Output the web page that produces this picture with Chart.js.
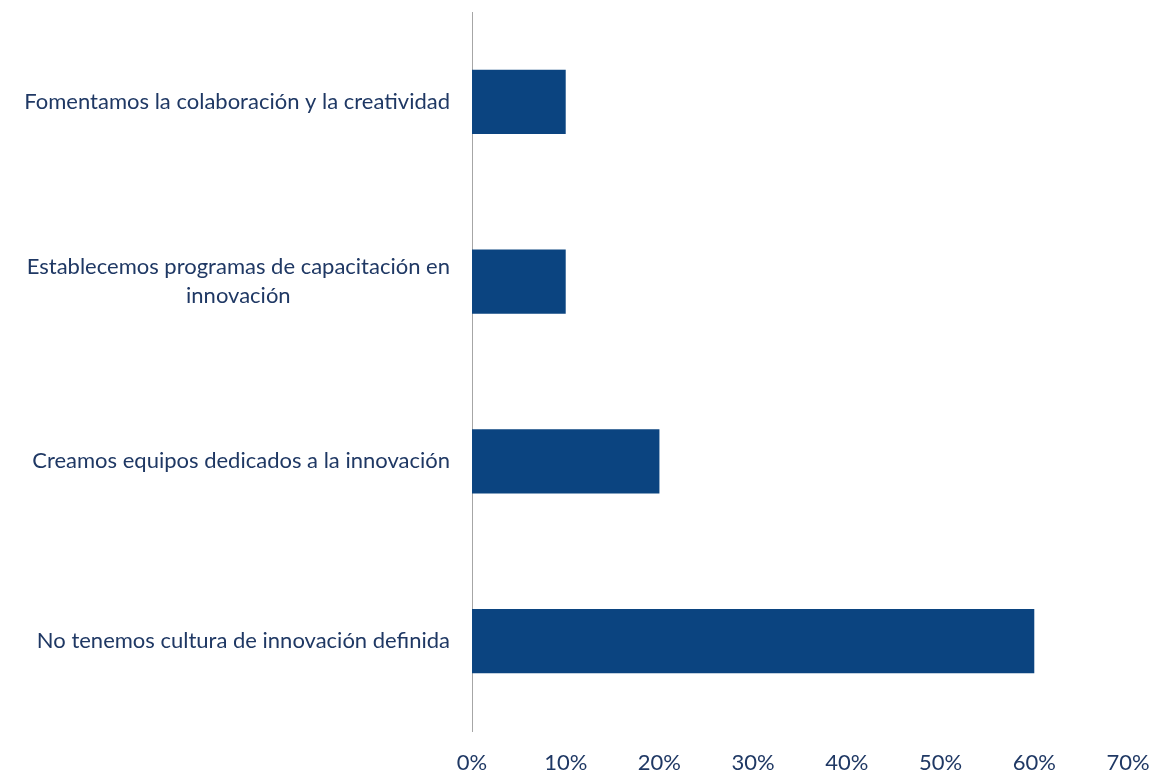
<!DOCTYPE html>
<html>
<head>
<meta charset="utf-8">
<script src="https://cdn.jsdelivr.net/npm/chart.js@4/dist/chart.umd.min.js"></script>
<style>
html,body{margin:0;padding:0;background:#fff;}
#wrap{width:1154px;height:771px;position:relative;}
</style>
</head>
<body>
<div id="wrap"><canvas id="c" width="1154" height="771"></canvas></div>
<script>
const categories = [
  "Fomentamos la colaboración y la creatividad",
  ["Establecemos programas de capacitación en", "innovación"],
  "Creamos equipos dedicados a la innovación",
  "No tenemos cultura de innovación definida"
];
const values = [10, 10, 20, 60];
const tickValues = [0, 10, 20, 30, 40, 50, 60, 70];

const TEXT = '#1f3864';
const FONT = 'Lato';
const FSIZE = 22;

const labelPlugin = {
  id: 'catLabels',
  afterDraw(chart) {
    const ctx = chart.ctx;
    const y = chart.scales.y;
    ctx.save();
    ctx.font = FSIZE + 'px ' + FONT;
    ctx.fillStyle = TEXT;
    ctx.textAlign = 'center';
    ctx.textBaseline = 'middle';
    const rightEdge = chart.chartArea.left - 22;
    const lh = 29;
    categories.forEach((lab, i) => {
      const lines = Array.isArray(lab) ? lab : [lab];
      const w = Math.max(...lines.map(l => ctx.measureText(l).width));
      const cx = rightEdge - w / 2;
      const cy = y.getPixelForTick(i);
      const top = cy - (lines.length - 1) * lh / 2;
      lines.forEach((l, j) => ctx.fillText(l, cx, top + j * lh));
    });
    ctx.restore();
  }
};

new Chart(document.getElementById('c'), {
  type: 'bar',
  data: {
    labels: categories,
    datasets: [{
      data: values,
      backgroundColor: '#0b4480',
      borderWidth: 0,
      categoryPercentage: 1,
      barPercentage: 0.357
    }]
  },
  options: {
    indexAxis: 'y',
    responsive: false,
    animation: false,
    layout: { padding: { top: 12, right: 26, left: 0, bottom: 0 } },
    plugins: { legend: { display: false }, tooltip: { enabled: false } },
    scales: {
      x: {
        min: 0, max: 70,
        afterBuildTicks(s) { s.ticks = tickValues.map(v => ({ value: v })); },
        afterFit(s) { s.height = 40; s.paddingRight = 0; s.paddingLeft = 0; },
        grid: { display: false, drawTicks: false },
        border: { display: false },
        ticks: {
          color: TEXT,
          font: { family: FONT, size: FSIZE },
          padding: 19,
          maxRotation: 0,
          callback: v => v + '%'
        }
      },
      y: {
        afterFit(s) { s.width = 472; },
        grid: { display: false, drawTicks: false },
        border: { display: true, color: '#a6a6a6', width: 1 },
        ticks: { display: false }
      }
    }
  },
  plugins: [labelPlugin]
});
</script>
</body>
</html>
